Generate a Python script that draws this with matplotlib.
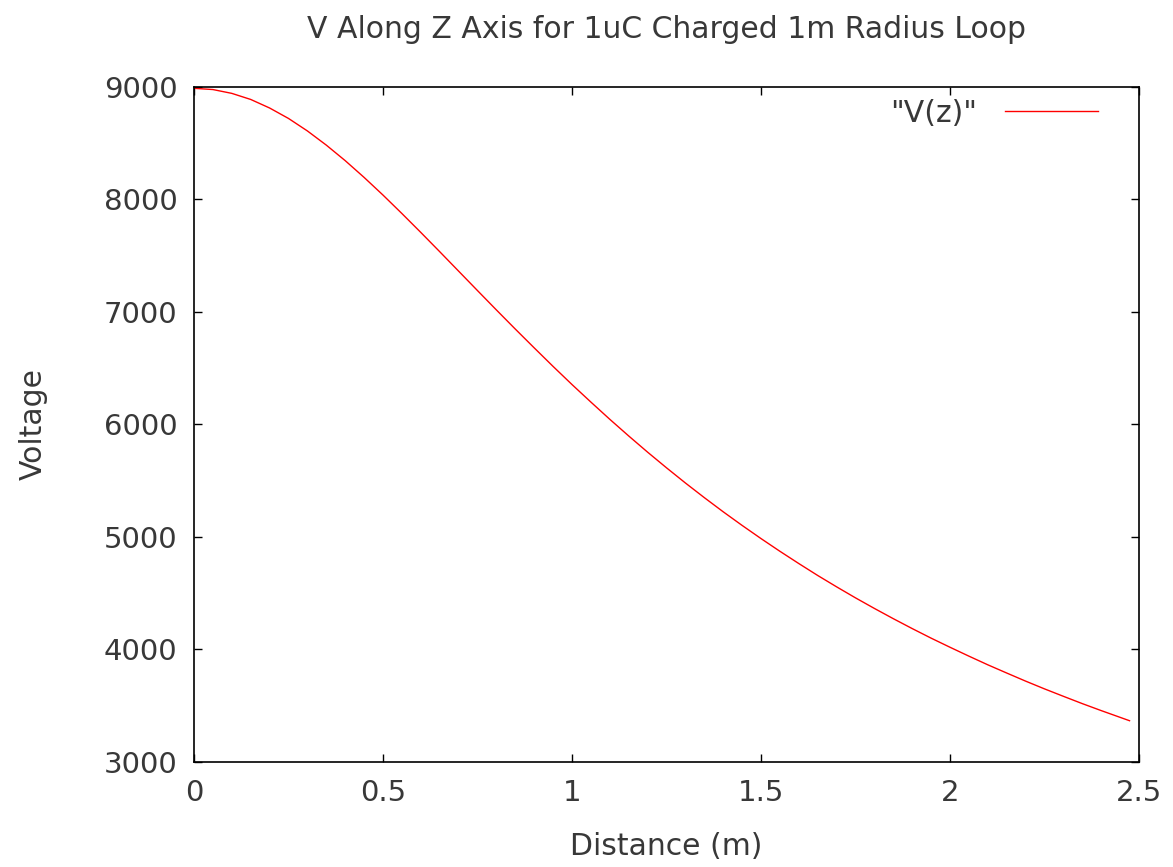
import numpy as np
import matplotlib.pyplot as plt

# distance along z axis (m) and potential (V)
distance = [0.0, 0.05, 0.1, 0.15, 0.2, 0.25, 0.3, 0.35, 0.4, 0.45, 0.5,
            0.55, 0.6, 0.65, 0.7, 0.75, 0.8, 0.85, 0.9, 0.95, 1.0,
            1.05, 1.1, 1.15, 1.2, 1.25, 1.3, 1.35, 1.4, 1.45, 1.5,
            1.55, 1.6, 1.65, 1.7, 1.75, 1.8, 1.85, 1.9, 1.95, 2.0,
            2.05, 2.1, 2.15, 2.2, 2.25, 2.3, 2.35, 2.4, 2.45, 2.475]
voltage = [8988, 8977, 8943, 8889, 8813, 8720, 8609, 8483, 8345, 8196, 8039,
           7875, 7707, 7536, 7363, 7190, 7018, 6848, 6681, 6516, 6355,
           6199, 6046, 5898, 5754, 5615, 5480, 5350, 5224, 5103, 4986,
           4873, 4764, 4658, 4557, 4459, 4365, 4274, 4186, 4101, 4020,
           3941, 3864, 3791, 3719, 3650, 3584, 3519, 3457, 3397, 3367]

xticks = [0, 0.5, 1, 1.5, 2, 2.5]
xticklabels = ['0', '0.5', '1', '1.5', '2', '2.5']
yticks = [3000, 4000, 5000, 6000, 7000, 8000, 9000]

FS = 21.5
TEXT = '#383838'

fig = plt.figure(figsize=(11.73, 8.67), dpi=100)
ax = fig.add_axes([0.1654, 0.1211, 0.9710 - 0.1654, 0.8997 - 0.1211])

ax.plot(distance, voltage, color='red', linewidth=1.0, label='"V(z)"')

ax.set_xlim(0, 2.5)
ax.set_ylim(3000, 9000)
ax.set_xticks(xticks)
ax.set_xticklabels(xticklabels)
ax.set_yticks(yticks)

ax.tick_params(direction='in', length=5.5, width=1, top=True, right=True,
               labelsize=21, labelcolor=TEXT, pad=12)
for s in ax.spines.values():
    s.set_linewidth(1.2)

ax.set_xlabel('Distance (m)', fontsize=FS, color=TEXT, labelpad=18)
ax.set_ylabel('Voltage', fontsize=FS, color=TEXT, labelpad=40)
ax.set_title('V Along Z Axis for 1uC Charged 1m Radius Loop', fontsize=FS,
             color=TEXT, pad=35)

ax.legend(loc='upper right', bbox_to_anchor=(0.969, 1.0), frameon=False,
          markerfirst=False, fontsize=FS, handlelength=3.1,
          handletextpad=0.95, borderaxespad=0, labelcolor=TEXT)

fig.savefig('out.png', dpi=100)
